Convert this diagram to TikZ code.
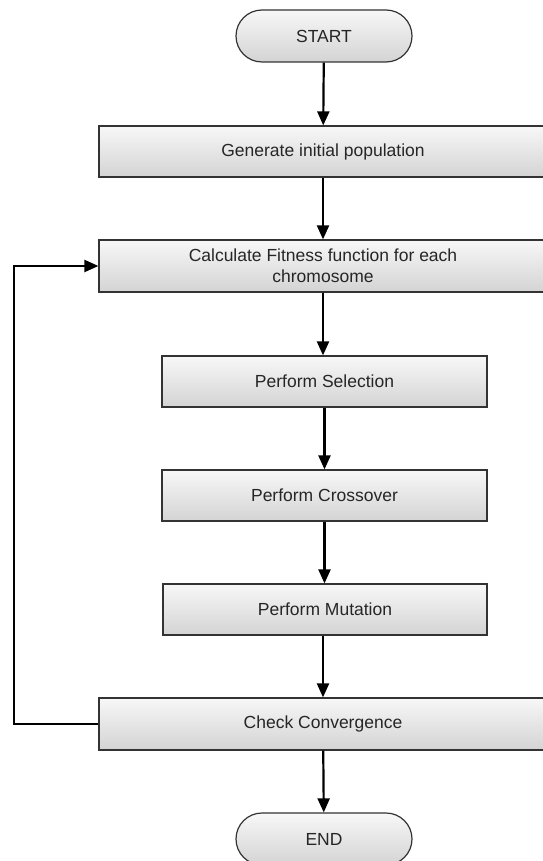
\documentclass[tikz,border=0pt]{standalone}
\usepackage{fontspec}
\setmainfont{Liberation Sans}
\usetikzlibrary{arrows.meta}
\begin{document}
\begin{tikzpicture}[x=1pt,y=-1pt,
  font=\fontsize{17.5}{21}\selectfont,
  boxbase/.style={draw=black!80, line width=1.2pt, top color=black!3, bottom color=black!17,
    text=black!85, align=center, inner sep=0pt},
  procbox/.style={boxbase, rectangle, minimum height=51pt},
  termbox/.style={boxbase, rounded corners=26pt, minimum width=176pt, minimum height=52pt},
  flow/.style={line width=2.2pt, -{Triangle[length=14pt,width=12pt]}}]
\useasboundingbox (0,0) rectangle (542,861);
\node[termbox] (start) at (324,36) {START};
\node[procbox, minimum width=448pt] (gen) at (323,151.5) {Generate initial population};
\node[procbox, minimum width=448pt, minimum height=52pt] (fit) at (323,266) {Calculate Fitness function for each\\chromosome};
\node[procbox, minimum width=325pt] (sel) at (324.5,381.5) {Perform Selection};
\node[procbox, minimum width=325pt] (cross) at (324.5,495.5) {Perform Crossover};
\node[procbox, minimum width=324pt] (mut) at (325,609.5) {Perform Mutation};
\node[procbox, minimum width=448pt, minimum height=52pt] (conv) at (323,724) {Check Convergence};
\node[termbox] (end) at (324,839) {END};
\coordinate (loopbot) at (14,724);
\coordinate (looptop) at (14,266);
\draw[flow] (start) -- (gen);
\draw[flow] (gen) -- (fit);
\draw[flow] (fit) -- (fit.south |- sel.north);
\draw[flow] (sel) -- (sel.south |- cross.north);
\draw[flow] (cross) -- (cross.south |- mut.north);
\draw[flow] (mut.south -| conv.north) -- (conv);
\draw[flow] (conv) -- (end);
\draw[flow] (conv.west) -- (loopbot) -- (looptop) -- (fit.west);
\end{tikzpicture}
\end{document}
